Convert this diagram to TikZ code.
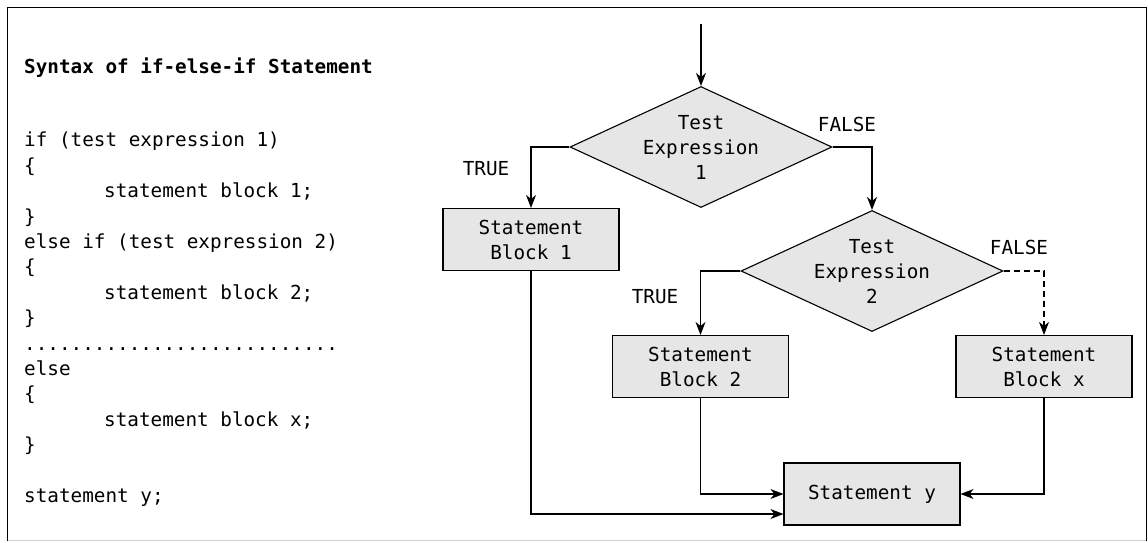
\documentclass[tikz,border=0pt]{standalone}
\usepackage{fontspec}
\usetikzlibrary{shapes.geometric,arrows.meta}
\newfontfamily\codefont{DejaVu Sans Mono}
\definecolor{boxgray}{HTML}{E6E6E6}
\definecolor{framegray}{HTML}{D0D0D0}
\tikzset{
  codeline/.style={anchor=base west, inner sep=0pt, font=\codefont\fontsize{19.3}{25.4}\selectfont},
  lbl/.style={inner sep=0pt, font=\codefont\fontsize{19.3}{25}\selectfont, align=center},
  dia/.style={shape=diamond, draw, fill=boxgray, line width=1.1pt, minimum width=262pt, minimum height=121pt, inner sep=0pt},
  stepbox/.style={draw, fill=boxgray, line width=1.1pt, minimum width=176pt, minimum height=62pt, inner sep=0pt, align=center, font=\codefont\fontsize{19.3}{25}\selectfont},
  arr/.style={draw, line width=1.1pt, -{Stealth[length=13pt, width=10pt, inset=4pt]}},
}
\begin{document}
\begin{tikzpicture}[x=1pt, y=-1pt]
\useasboundingbox (0,0) rectangle (1148,542);
% frame
\draw[framegray, line width=1.2pt] (7,540.5) -- (1146.5,540.5);
\draw[black, line width=1.6pt] (7.5,541) -- (7.5,7.5) -- (1146.5,7.5) -- (1146.5,541);

% code text
\node[codeline] (title) at (24,73.5) {\bfseries Syntax of if-else-if Statement};
\node[codeline] (l1) at (24,146.8) {if (test expression 1)};
\node[codeline] (l2) at (24,172.2) {\{};
\node[codeline] (l3) at (104,197.6) {statement block 1;};
\node[codeline] (l4) at (24,223.0) {\}};
\node[codeline] (l5) at (24,248.4) {else if (test expression 2)};
\node[codeline] (l6) at (24,273.8) {\{};
\node[codeline] (l7) at (104,299.2) {statement block 2;};
\node[codeline] (l8) at (24,324.6) {\}};
\node[codeline] (l9) at (24,350.0) {...........................};
\node[codeline] (l10) at (24,375.4) {else};
\node[codeline] (l11) at (24,400.8) {\{};
\node[codeline] (l12) at (104,426.2) {statement block x;};
\node[codeline] (l13) at (24,451.6) {\}};
\node[codeline] (l14) at (24,502.4) {statement y;};

% flowchart
\coordinate (start) at (701,24);
\node[dia] (d1) at (701,147) {};
\node[lbl] (t1) at (d1.center) {Test\\Expression\\1};
\node[dia] (d2) at (872,271) {};
\node[lbl] (t2) at (d2.center) {Test\\Expression\\2};
\node[stepbox] (b1) at (531,239.5) {Statement\\Block 1};
\node[stepbox] (b2) at (700.5,366.5) {Statement\\Block 2};
\node[stepbox] (bx) at (1044,366.5) {Statement\\Block x};
\node[stepbox] (sy) at (872,494) {Statement y};

\node[lbl] (true1) at (486,169) {TRUE};
\node[lbl] (false1) at (847,124) {FALSE};
\node[lbl] (true2) at (655,297) {TRUE};
\node[lbl] (false2) at (1019,247) {FALSE};

\draw[arr] (start) -- (d1.north);
\draw[arr] (d1.west) -| (b1.north);
\draw[arr] (d1.east) -| (d2.north);
\draw[arr] (d2.west) -| (b2.north);
\draw[arr, dash pattern=on 6pt off 4pt] (d2.east) -| (bx.north);
\draw[arr] (b2.south) |- (sy.west);
\draw[arr] (bx.south) |- (sy.east);
\draw[arr] (b1.south) |- ([yshift=-20pt]sy.west);
\end{tikzpicture}
\end{document}
